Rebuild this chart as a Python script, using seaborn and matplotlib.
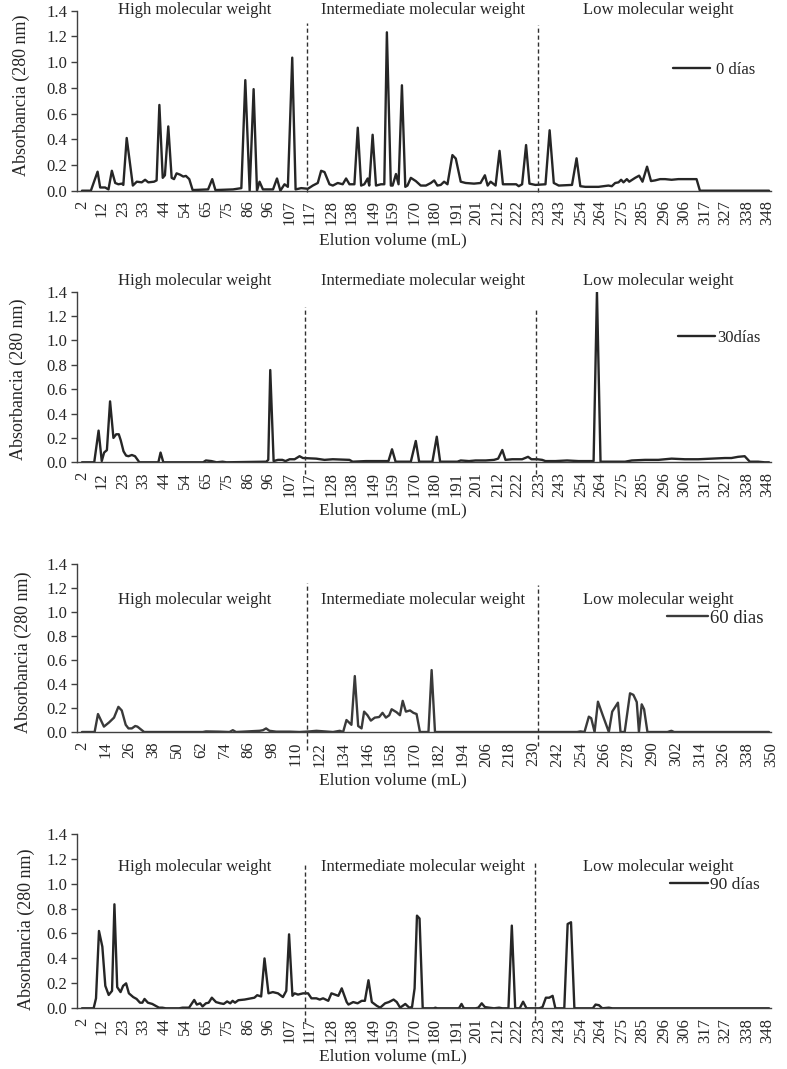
import numpy as np
import pandas as pd
import matplotlib
matplotlib.use("Agg")
import matplotlib.pyplot as plt
import matplotlib.transforms as mtransforms
import seaborn as sns

# ---------------- data (elution volume mL, absorbance 280 nm) ----------------
series_0d = [(2, 0), (6.5, 0), (9.9, 0.148), (11.2, 0.025), (13.7, 0.025), (15.4, 0.01), (17.1, 0.155),
             (18.8, 0.06), (20.4, 0.05), (22.1, 0.055), (22.9, 0.045), (24.6, 0.41), (27.7, 0.04), (29.7, 0.07),
             (32.2, 0.065), (33.9, 0.085), (35.5, 0.065), (38.4, 0.07), (39.7, 0.08), (41.1, 0.667), (42.8, 0.10),
             (43.9, 0.12), (45.6, 0.50), (47.3, 0.10), (48.5, 0.09), (49.8, 0.135), (51.5, 0.125), (53.2, 0.11),
             (54.5, 0.115), (56.2, 0.09), (57.9, 0.005), (65.7, 0.01), (67.8, 0.09), (69.4, 0.005), (78.3, 0.01),
             (82.5, 0.02), (84.5, 0.86), (86.7, 0.0), (88.7, 0.79), (90.4, 0.0), (91.7, 0.07), (93.4, 0.01),
             (98.5, 0.01), (100.5, 0.095), (102.2, 0.0), (104.3, 0.05), (106.0, 0.03), (108.2, 1.035), (109.9, 0.01),
             (112.7, 0.02), (116.1, 0.015), (118.6, 0.04), (121.1, 0.06), (122.8, 0.155), (124.5, 0.145),
             (127.0, 0.05), (128.7, 0.04), (131.2, 0.06), (133.7, 0.05), (135.4, 0.095), (137.1, 0.05),
             (139.6, 0.05), (141.3, 0.49), (143.0, 0.04), (144.6, 0.05), (146.3, 0.095), (147.1, 0.04),
             (148.8, 0.435), (150.5, 0.04), (153.0, 0.05), (154.7, 0.05), (156.0, 1.232), (158.0, 0.04),
             (158.9, 0.04), (160.6, 0.13), (161.9, 0.05), (163.6, 0.82), (165.3, 0.03), (166.4, 0.04), (168.1, 0.10),
             (170.6, 0.075), (173.1, 0.04), (175.7, 0.04), (178.2, 0.06), (179.9, 0.08), (181.5, 0.04),
             (183.2, 0.045), (184.9, 0.07), (186.6, 0.05), (189.1, 0.277), (190.8, 0.25), (193.3, 0.07),
             (195.8, 0.06), (200.0, 0.055), (203.3, 0.06), (205.5, 0.12), (206.9, 0.04), (208.4, 0.07),
             (210.9, 0.04), (212.9, 0.31), (214.6, 0.05), (219.3, 0.05), (221.3, 0.05), (222.6, 0.035),
             (224.3, 0.05), (226.3, 0.355), (228.0, 0.055), (231.0, 0.045), (236.1, 0.05), (238.2, 0.47),
             (240.3, 0.06), (242.8, 0.04), (249.5, 0.045), (251.8, 0.252), (253.7, 0.035), (256.2, 0.03),
             (262.9, 0.03), (267.9, 0.04), (269.6, 0.035), (271.3, 0.06), (273.0, 0.065), (274.3, 0.085),
             (275.5, 0.065), (277.2, 0.09), (278.4, 0.07), (281.4, 0.10), (283.4, 0.117), (285.1, 0.07),
             (287.4, 0.187), (289.4, 0.075), (291.4, 0.08), (294.0, 0.09), (296.5, 0.09), (299.8, 0.085),
             (303.2, 0.09), (308.2, 0.09), (312.4, 0.09), (314.1, 0.0), (349, 0.0)]

series_30d = [(2, 0), (8.2, 0), (10.4, 0.26), (12.0, 0.01), (13.2, 0.08), (14.6, 0.10), (16.2, 0.50), (17.9, 0.20),
              (19.3, 0.23), (20.6, 0.23), (21.6, 0.18), (23.0, 0.09), (24.3, 0.055), (25.5, 0.05), (27.2, 0.06),
              (28.8, 0.05), (31.0, 0), (40.6, 0), (41.7, 0.08), (43.1, 0), (63.2, 0), (64.6, 0.015), (67.4, 0.01),
              (70.0, 0), (73.0, 0.005), (75.0, 0), (95.1, 0.005), (96.1, 0.02), (97.1, 0.757), (98.8, 0.01),
              (101.0, 0.02), (103.2, 0.02), (104.8, 0.01), (106.9, 0.025), (109.4, 0.025), (111.9, 0.05),
              (113.6, 0.035), (120.3, 0.03), (124.5, 0.02), (128.7, 0.025), (137.1, 0.02), (138.7, 0.005),
              (145.4, 0.01), (156.8, 0.01), (158.6, 0.107), (160.4, 0.005), (168.1, 0.005), (170.6, 0.175),
              (172.3, 0.005), (179.0, 0.005), (181.2, 0.21), (182.9, 0.005), (191.6, 0.005), (193.3, 0.015),
              (197.5, 0.01), (200.8, 0.015), (205.9, 0.015), (210.1, 0.02), (212.2, 0.03), (214.3, 0.101),
              (215.9, 0.02), (219.3, 0.025), (224.3, 0.025), (227.3, 0.045), (229.0, 0.025), (231.9, 0.025),
              (234.4, 0.02), (236.1, 0.01), (241.1, 0.01), (247.0, 0.015), (252.8, 0.01), (260.4, 0.01),
              (262.1, 1.40), (263.9, 0.005), (276.3, 0.005), (279.7, 0.015), (286.4, 0.02), (293.1, 0.02),
              (299.8, 0.03), (306.5, 0.025), (313.3, 0.025), (320.0, 0.03), (326.7, 0.035), (330.0, 0.035),
              (333.4, 0.045), (336.7, 0.05), (339.3, 0.005), (343.5, 0.005), (346.8, 0), (349, 0)]

series_60d = [(2, 0), (8.4, 0), (10.1, 0.15), (13.1, 0.045), (15.7, 0.08), (18.2, 0.12), (20.4, 0.21), (22.1, 0.18),
              (24.1, 0.06), (25.5, 0.03), (27.2, 0.03), (28.9, 0.05), (30.0, 0.045), (33.4, 0), (63.0, 0),
              (64.6, 0.005), (71.4, 0.003), (76.5, 0), (78.2, 0.015), (79.8, 0), (91.7, 0.01), (93.4, 0.015),
              (95.0, 0.03), (96.7, 0.01), (100.1, 0.003), (106.9, 0.003), (111.9, 0), (117.0, 0.005),
              (120.4, 0.01), (124.6, 0.005), (128.8, 0), (132.2, 0.01), (133.9, 0), (135.6, 0.10), (138.1, 0.06),
              (139.8, 0.467), (141.5, 0.05), (143.2, 0.03), (144.5, 0.17), (146.2, 0.14), (147.9, 0.095),
              (149.9, 0.12), (152.1, 0.125), (153.8, 0.16), (155.5, 0.12), (157.2, 0.14), (158.4, 0.19),
              (160.9, 0.165), (162.6, 0.14), (164.0, 0.26), (165.6, 0.17), (167.7, 0.18), (169.4, 0.16),
              (171.0, 0.15), (172.7, 0), (177.0, 0), (178.6, 0.517), (180.3, 0), (252.1, 0), (253.8, 0.005),
              (255.8, 0), (258.0, 0.128), (259.2, 0.115), (260.9, 0), (262.6, 0.253), (264.8, 0.15), (268.1, 0),
              (269.8, 0.17), (272.7, 0.245), (274.0, 0), (276.1, 0), (278.8, 0.323), (280.5, 0.31), (282.2, 0.25),
              (283.3, 0), (284.7, 0.231), (285.9, 0.19), (287.6, 0), (297.7, 0), (299.7, 0.01), (301.1, 0),
              (349, 0)]

series_90d = [(2, 0), (7.9, 0), (9.1, 0.08), (10.6, 0.62), (12.3, 0.494), (13.8, 0.18), (15.5, 0.107), (17.2, 0.14),
              (18.4, 0.834), (19.8, 0.17), (21.5, 0.13), (22.8, 0.18), (24.3, 0.20), (25.7, 0.12), (27.9, 0.09),
              (29.6, 0.075), (31.3, 0.045), (32.5, 0.045), (33.6, 0.075), (35.3, 0.045), (37.5, 0.035),
              (39.2, 0.02), (40.9, 0.005), (42.6, 0.005), (44.3, 0), (51.1, 0), (52.8, 0.005), (56.1, 0.005),
              (58.7, 0.067), (60.0, 0.03), (61.7, 0.04), (62.9, 0.015), (64.6, 0.04), (66.0, 0.045), (67.6, 0.085),
              (69.7, 0.05), (71.9, 0.04), (73.6, 0.035), (75.3, 0.055), (76.9, 0.04), (78.1, 0.06), (79.3, 0.045),
              (81.0, 0.065), (84.1, 0.07), (87.4, 0.08), (89.1, 0.085), (90.5, 0.105), (92.5, 0.095), (94.2, 0.40),
              (96.2, 0.12), (98.4, 0.13), (101.0, 0.12), (103.5, 0.09), (105.2, 0.14), (106.6, 0.593),
              (108.3, 0.10), (109.4, 0.12), (111.1, 0.11), (113.7, 0.12), (116.2, 0.12), (117.9, 0.08),
              (120.4, 0.08), (122.1, 0.07), (123.8, 0.08), (126.4, 0.06), (128.0, 0.12), (129.7, 0.11),
              (131.5, 0.10), (133.2, 0.16), (135.7, 0.05), (136.6, 0.03), (139.0, 0.05), (141.2, 0.04),
              (143.3, 0.06), (144.9, 0.06), (146.7, 0.225), (148.4, 0.05), (150.9, 0.02), (152.6, 0.005),
              (155.1, 0.04), (157.0, 0.05), (159.4, 0.07), (161.0, 0.05), (162.7, 0.005), (165.3, 0.035),
              (167.3, 0.005), (168.7, 0.01), (170.0, 0.16), (171.2, 0.743), (172.5, 0.72), (174.1, 0),
              (179.7, 0), (180.5, 0.005), (181.4, 0), (192.4, 0), (193.7, 0.035), (194.9, 0), (200.8, 0),
              (202.2, 0.005), (203.9, 0.04), (205.5, 0.01), (207.6, 0.005), (210.1, 0), (212.7, 0.005),
              (214.3, 0), (217.4, 0), (219.1, 0.663), (220.8, 0), (223.1, 0), (224.8, 0.053), (226.5, 0),
              (233.0, 0), (234.6, 0.01), (236.3, 0.085), (238.0, 0.085), (239.7, 0.10), (241.1, 0), (245.6, 0),
              (247.3, 0.676), (249.0, 0.69), (250.7, 0), (260.0, 0), (261.4, 0.03), (263.1, 0.025), (264.8, 0),
              (268.1, 0.005), (269.8, 0), (349, 0)]

xticks_std = [2, 12, 23, 33, 44, 54, 65, 75, 86, 96, 107, 117, 128, 138, 149, 159, 170, 180, 191, 201,
              212, 222, 233, 243, 254, 264, 275, 285, 296, 306, 317, 327, 338, 348]
xticks_60 = [2, 14, 26, 38, 50, 62, 74, 86, 98, 110, 122, 134, 146, 158, 170, 182, 194, 206, 218, 230,
             242, 254, 266, 278, 290, 302, 314, 326, 338, 350]
legend_labels = ["0 días", "30días", "60 dias", "90 días"]
region_labels = ["High molecular weight", "Intermediate molecular weight", "Low molecular weight"]
yticks = [0.0, 0.2, 0.4, 0.6, 0.8, 1.0, 1.2, 1.4]

# ---------------- style ----------------
sns.set_theme(style="ticks")
plt.rcParams['font.family'] = ['Liberation Serif', 'DejaVu Serif']
plt.rcParams['axes.linewidth'] = 1.0

W, H = 787, 1069
fig = plt.figure(figsize=(W / 100, H / 100), dpi=100)

panels = [
    dict(data=series_0d, ticks=xticks_std, top=10.7, base=190.7, reg_y=1.374, leg=(0.859, 0.671, 12, 0.35),
         dash=[(0.3307, 1.306, -0.01), (0.664, 1.289, -0.01)], ylab=(-0.068, 0.532), xlab=-0.232,
         color="#262626"),
    dict(data=series_30d, ticks=xticks_std, top=291.7, base=462.3, reg_y=1.455, leg=(0.866, 0.729, 12, 0.15),
         dash=[(0.3285, 1.274, -0.10), (0.6615, 1.27, -0.10)], ylab=(-0.072, 0.488), xlab=-0.235,
         color="#262626"),
    dict(data=series_60d, ticks=xticks_60, top=564.3, base=732.0, reg_y=1.068, leg=(0.850, 0.680, 13.5, 0.1),
         dash=[(0.3307, 1.244, -0.15), (0.664, 1.227, -0.12)], ylab=(-0.065, 0.474), xlab=-0.24,
         color="#3a3a3a"),
    dict(data=series_90d, ticks=xticks_std, top=833.7, base=1008.3, reg_y=1.10, leg=(0.854, 0.706, 12.5, 0.1),
         dash=[(0.3285, 1.149, -0.107), (0.660, 1.163, -0.09)], ylab=(-0.06, 0.454), xlab=-0.228,
         color="#262626"),
]

left_px, right_px = 77, 771
XMIN, XMAX = -0.5, 350
axis_col = "#404040"

for i, p in enumerate(panels):
    ax = fig.add_axes([left_px / W, 1 - p['base'] / H, (right_px - left_px) / W, (p['base'] - p['top']) / H])
    df = pd.DataFrame(p['data'], columns=["vol", "abs"])
    sns.lineplot(data=df, x="vol", y="abs", ax=ax, color=p['color'], lw=1.7, sort=False,
                 estimator=None, label=legend_labels[i])
    ax.set_xlim(XMIN, XMAX)
    ax.set_ylim(0, 1.4)
    ax.set_yticks(yticks)
    ax.set_yticklabels([f"{v:.1f}" for v in yticks])
    ax.set_xticks(p['ticks'])
    ax.set_xticklabels([str(t) for t in p['ticks']], rotation=90)
    ax.tick_params(axis='y', direction='out', length=4, width=1, color=axis_col, labelsize=12, pad=3,
                   labelcolor="#262626")
    ax.tick_params(axis='x', length=0, labelsize=12, pad=7, labelcolor="#262626")
    for s in ['top', 'right']:
        ax.spines[s].set_visible(False)
    for s in ['left', 'bottom']:
        ax.spines[s].set_color(axis_col)
        ax.spines[s].set_linewidth(1.0)
    ax.set_ylabel("Absorbancia (280 nm)", fontsize=13, color="#262626")
    ax.yaxis.set_label_coords(*p['ylab'])
    ax.set_xlabel("Elution volume (mL)", fontsize=12.5, color="#262626")
    ax.xaxis.set_label_coords(0.455, p['xlab'])
    ax.grid(False)

    # dashed separators
    for (xf, ytop, ybot) in p['dash']:
        xv = XMIN + xf * (XMAX - XMIN)
        ax.plot([xv, xv], [ybot, ytop], ls=(0, (3, 2)), lw=1.0, color="#303030", clip_on=False)

    # region labels
    trans = mtransforms.blended_transform_factory(ax.transAxes, ax.transData)
    for xf, lab in zip([0.170, 0.4986, 0.837], region_labels):
        ax.text(xf, p['reg_y'], lab, transform=trans, ha='center', va='baseline', fontsize=12,
                color="#262626", clip_on=False)

    lx, ly, lfs, tpad = p['leg']
    ax.legend(loc='center left', bbox_to_anchor=(lx, ly), frameon=False, fontsize=lfs,
              handlelength=2.2, handletextpad=tpad, borderpad=0, borderaxespad=0)

fig.savefig("out.png", dpi=100)
